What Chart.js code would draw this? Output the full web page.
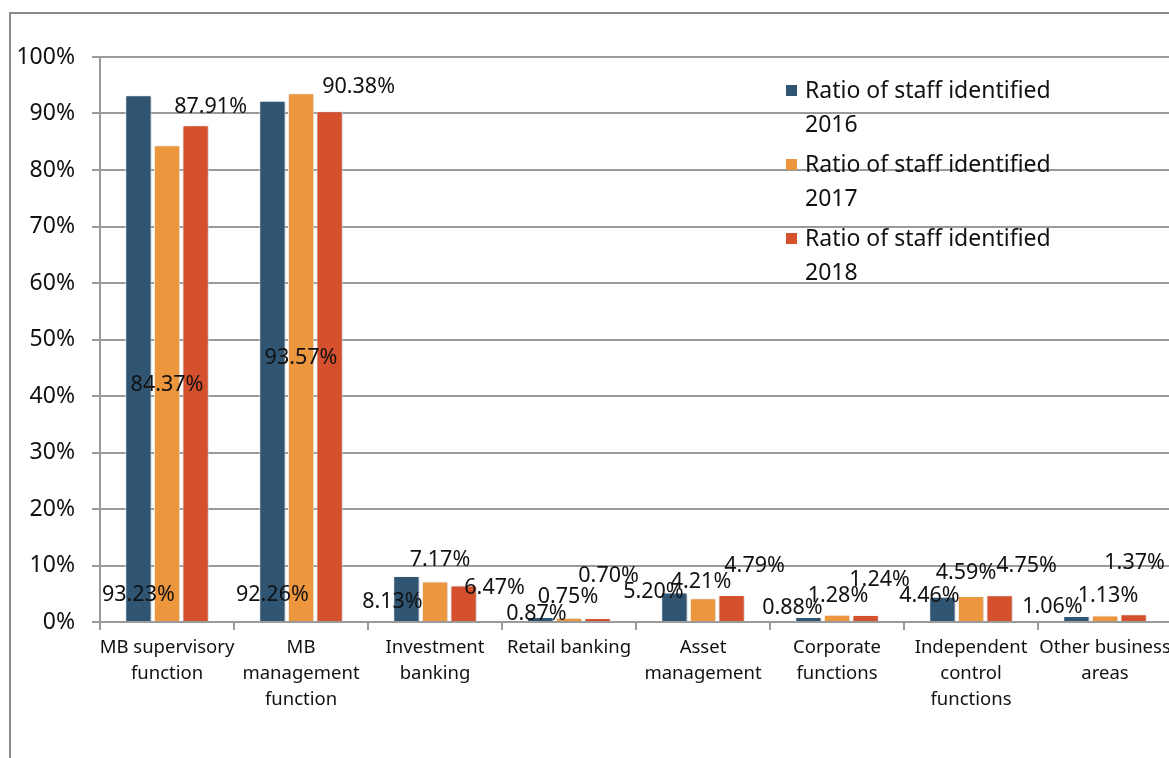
<!DOCTYPE html>
<html>
<head>
<meta charset="utf-8">
<script src="https://cdn.jsdelivr.net/npm/chart.js@4.4.1/dist/chart.umd.min.js"></script>
<style>
  html, body { margin: 0; padding: 0; background: #fff; overflow: hidden; }
  canvas { display: block; }
</style>
</head>
<body>
<canvas id="staff-chart" width="1180" height="758"></canvas>
<script>
// categories and values (percent)
var categories = [
    ["MB supervisory", "function"],
    ["MB", "management", "function"],
    ["Investment", "banking"],
    ["Retail banking"],
    ["Asset", "management"],
    ["Corporate", "functions"],
    ["Independent", "control", "functions"],
    ["Other business", "areas"]
];
var seriesNames = [
    ["Ratio of staff identified", "2016"],
    ["Ratio of staff identified", "2017"],
    ["Ratio of staff identified", "2018"]
];
var values2016 = [93.23, 92.26, 8.13, 0.87, 5.20, 0.88, 4.46, 1.06];
var values2017 = [84.37, 93.57, 7.17, 0.75, 4.21, 1.28, 4.59, 1.13];
var values2018 = [87.91, 90.38, 6.47, 0.70, 4.79, 1.24, 4.75, 1.37];
var yTicks = [0, 10, 20, 30, 40, 50, 60, 70, 80, 90, 100];

// where the data labels sit (label centre as a % value, and a sideways shift in px)
var labelAt2016 = [4.8, 4.8, 3.5, 1.4, 5.3, 2.5, 4.6, 2.7];
var labelAt2017 = [41.9, 46.7, 11.0, 4.4, 7.1, 4.6, 8.7, 4.6];
var labelAt2018 = [91.2, 94.7, 6.0, 8.1, 9.9, 7.4, 9.9, 10.4];
var labelDx2016 = [0, 0, -14, -4, -21, -16, -13, -24];
var labelDx2017 = [0, 0, 5, -1, -2, 1, -5, 3];
var labelDx2018 = [15, 29, 31, 11, 23, 14, 27, 1];

var colors = ['#2F5573', '#EC963E', '#D5502C'];
var fontFamily = '"Noto Sans", "Open Sans", sans-serif';
var gridColor = '#9a9a9a';

var labelAt = [labelAt2016, labelAt2017, labelAt2018];
var labelDx = [labelDx2016, labelDx2017, labelDx2018];

var framePlugin = {
    id: 'frame',
    beforeDraw: function (chart) {
        var ctx = chart.ctx;
        ctx.save();
        ctx.strokeStyle = '#8a8a8a';
        ctx.lineWidth = 2;
        ctx.strokeRect(10, 13, 1300, 900);
        ctx.restore();
    }
};

var shadowPlugin = {
    id: 'barShadow',
    beforeDatasetsDraw: function (chart) {
        var ctx = chart.ctx;
        ctx.save();
        ctx.shadowColor = 'rgba(0,0,0,0.22)';
        ctx.shadowBlur = 3;
        ctx.shadowOffsetX = 1;
        ctx.shadowOffsetY = 1;
    },
    afterDatasetsDraw: function (chart) {
        chart.ctx.restore();
    }
};

var valueLabels = {
    id: 'valueLabels',
    afterDatasetsDraw: function (chart) {
        var ctx = chart.ctx;
        var y = chart.scales.y;
        ctx.save();
        ctx.font = '21.5px ' + fontFamily;
        ctx.fillStyle = '#111';
        ctx.textAlign = 'center';
        ctx.textBaseline = 'middle';
        chart.data.datasets.forEach(function (ds, i) {
            var meta = chart.getDatasetMeta(i);
            meta.data.forEach(function (bar, j) {
                ctx.fillText(ds.data[j].toFixed(2) + '%', bar.x + labelDx[i][j], y.getPixelForValue(labelAt[i][j]));
            });
        });
        ctx.restore();
    }
};

var boxLegend = {
    id: 'boxLegend',
    afterDraw: function (chart) {
        var ctx = chart.ctx;
        var left = 786, top = 91;
        ctx.save();
        ctx.font = '23px ' + fontFamily;
        ctx.textBaseline = 'middle';
        ctx.textAlign = 'left';
        chart.data.datasets.forEach(function (ds, i) {
            var yy = top + i * 74;
            ctx.fillStyle = ds.backgroundColor;
            ctx.fillRect(left, yy - 6, 11, 11);
            ctx.fillStyle = '#111';
            seriesNames[i].forEach(function (line, k) {
                ctx.fillText(line, left + 19, yy + k * 34);
            });
        });
        ctx.restore();
    }
};

var ctx = document.getElementById('staff-chart').getContext('2d');
var chart = new Chart(ctx, {
    type: 'bar',
    data: {
        labels: categories,
        datasets: [values2016, values2017, values2018].map(function (vals, i) {
            return {
                label: seriesNames[i].join(' '),
                data: vals,
                backgroundColor: colors[i],
                borderColor: '#ffffff',
                borderWidth: 1,
                categoryPercentage: 0.64,
                barPercentage: 0.92
            };
        })
    },
    options: {
        responsive: false,
        animation: false,
        layout: { padding: { top: 57, right: 8, left: 0, bottom: 0 } },
        plugins: {
            legend: { display: false },
            tooltip: { enabled: false }
        },
        scales: {
            x: {
                afterFit: function (scale) { scale.height = 136; },
                grid: { drawOnChartArea: false, drawTicks: true, tickLength: 8, color: gridColor, lineWidth: 2, offset: true },
                border: { color: gridColor, width: 2 },
                ticks: {
                    color: '#111',
                    padding: 5,
                    maxRotation: 0,
                    autoSkip: false,
                    font: { family: fontFamily, size: 18.5, lineHeight: '26px' }
                }
            },
            y: {
                min: 0,
                max: 100,
                afterFit: function (scale) { scale.width = 100; },
                afterBuildTicks: function (scale) {
                    scale.ticks = yTicks.map(function (v) { return { value: v }; });
                },
                grid: { color: gridColor, lineWidth: 2, tickLength: 8 },
                border: { color: gridColor, width: 2 },
                ticks: {
                    color: '#111',
                    padding: 17,
                    font: { family: fontFamily, size: 23 },
                    callback: function (v) { return v + '%'; }
                }
            }
        }
    },
    plugins: [framePlugin, shadowPlugin, valueLabels, boxLegend]
});
</script>
</body>
</html>
